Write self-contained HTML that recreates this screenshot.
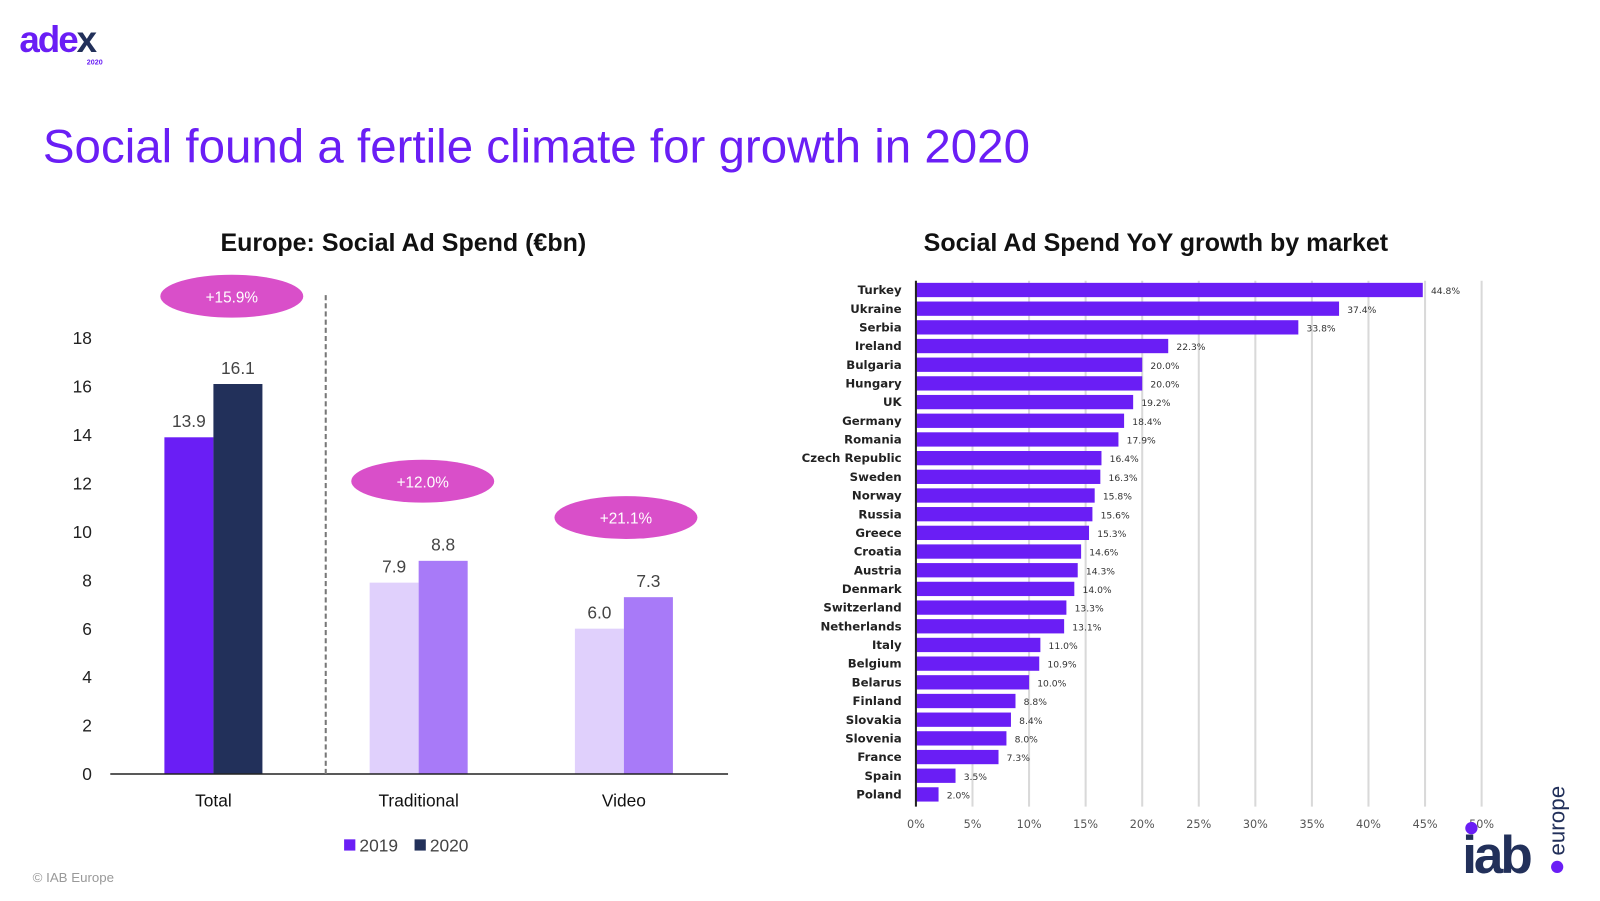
<!DOCTYPE html>
<html><head><meta charset="utf-8"><style>
body{margin:0;width:1600px;height:900px;background:#fff;font-family:"Liberation Sans",sans-serif;overflow:hidden;position:relative}
#wrap{position:absolute;left:0;top:0;width:1567px;height:882px;transform:scale(1.0211);transform-origin:0 0}
.abs{position:absolute}
</style></head><body>
<div id="wrap">
<div class="abs" style="left:19px;top:18px;font-weight:bold;font-size:36px;letter-spacing:-2px;color:#6a1ef5">ade<span style="color:#22305a">x</span></div>
<div class="abs" style="left:85px;top:58px;font-size:7px;font-weight:bold;color:#6a1ef5">2020</div>
<div class="abs" style="left:42px;top:116px;font-size:46.5px;color:#6a1ef5">Social found a fertile climate for growth in 2020</div>
<div class="abs" style="left:32px;top:852px;font-size:13px;color:#999">© IAB Europe</div>
<svg class="abs" style="left:0;top:0" width="1567" height="882" id="svg">
<text x="395" y="246" text-anchor="middle" font-size="24.5" font-weight="bold" font-family="Liberation Sans,sans-serif" fill="#111">Europe: Social Ad Spend (€bn)</text>
<text x="1132" y="246" text-anchor="middle" font-size="24.5" font-weight="bold" font-family="Liberation Sans,sans-serif" fill="#111">Social Ad Spend YoY growth by market</text>
<g id="left"></g><g id="right"></g>
<g>
<text x="1432" y="855" font-size="52" font-weight="bold" font-family="Liberation Sans,sans-serif" fill="#22305a" letter-spacing="-3">iab</text>
<circle cx="1441" cy="811" r="6" fill="#6a1ef5"/>
<circle cx="1525" cy="849" r="6" fill="#6a1ef5"/>
<text transform="translate(1532,838) rotate(-90)" font-size="22" font-family="Liberation Sans,sans-serif" fill="#22305a">europe</text>
</g>
</svg>
</div>
<script>
const NS="http://www.w3.org/2000/svg";
function mk(p,t,a){const e=document.createElementNS(NS,t);for(const k in a)e.setAttribute(k,a[k]);p.appendChild(e);return e}
// Left chart data
const leftCats=["Total","Traditional","Video"];
const v2019=[13.9,7.9,6.0];
const v2020=[16.1,8.8,7.3];
const growth=["+15.9%","+12.0%","+21.1%"];
const yTicks=[0,2,4,6,8,10,12,14,16,18];
const col2019=["#6a1ef5","#e0d0fc","#e0d0fc"];
const col2020=["#22305a","#a87af8","#a87af8"];
const L=document.getElementById("left");
const y0=758,yUnit=(758-331)/18;
const Y=v=>y0-v*yUnit;
const cx=i=>209+i*201;
yTicks.forEach(t=>{const e=mk(L,"text",{x:90,y:Y(t)+6,"text-anchor":"end","font-size":17,fill:"#222","font-family":"Liberation Sans,sans-serif"});e.textContent=t;

});
leftCats.forEach((c,i)=>{
 const b1=mk(L,"rect",{x:cx(i)-48,y:Y(v2019[i]),width:48,height:v2019[i]*yUnit,fill:col2019[i]});
 
 
 const b2=mk(L,"rect",{x:cx(i),y:Y(v2020[i]),width:48,height:v2020[i]*yUnit,fill:col2020[i]});
 
 
 [[v2019[i],cx(i)-24],[v2020[i],cx(i)+24]].forEach(([v,x])=>{const t=mk(L,"text",{x:x,y:Y(v)-10,"text-anchor":"middle","font-size":17,fill:"#444","font-family":"Liberation Sans,sans-serif"});t.textContent=v.toFixed(1);
 
 });
 const lb=mk(L,"text",{x:cx(i),y:790,"text-anchor":"middle","font-size":17,fill:"#111","font-family":"Liberation Sans,sans-serif"});lb.textContent=c;
 
 
 const by=Y(Math.max(v2019[i],v2020[i]))-78+(i==0?-8:0);
 const bx=cx(i)+18-(i==0?0:(i==1?14:16));
 const el=mk(L,"ellipse",{cx:bx,cy:by,rx:70,ry:21,fill:"#d94fc9"});
 
 
 const gt=mk(L,"text",{x:bx,y:by+6,"text-anchor":"middle","font-size":15,fill:"#fff","font-family":"Liberation Sans,sans-serif"});gt.textContent=growth[i];
 
 
});
const ax=mk(L,"line",{x1:108,x2:713,y1:y0,y2:y0,stroke:"#222","stroke-width":1.5});

const dv=mk(L,"line",{x1:319,x2:319,y1:289,y2:758,stroke:"#777","stroke-width":2,"stroke-dasharray":"5,3"});

[["2019","#6a1ef5",337],["2020","#22305a",406]].forEach(([n,c,x])=>{const r=mk(L,"rect",{x:x,y:822,width:11,height:11,fill:c});

const t=mk(L,"text",{x:x+15,y:834,"font-size":17,fill:"#444","font-family":"Liberation Sans,sans-serif"});t.textContent=n;
});
// Right chart data
const markets=["Turkey","Ukraine","Serbia","Ireland","Bulgaria","Hungary","UK","Germany","Romania","Czech Republic","Sweden","Norway","Russia","Greece","Croatia","Austria","Denmark","Switzerland","Netherlands","Italy","Belgium","Belarus","Finland","Slovakia","Slovenia","France","Spain","Poland"];
const growthVals=[44.8,37.4,33.8,22.3,20.0,20.0,19.2,18.4,17.9,16.4,16.3,15.8,15.6,15.3,14.6,14.3,14.0,13.3,13.1,11.0,10.9,10.0,8.8,8.4,8.0,7.3,3.5,2.0];
const xTicks=[0,5,10,15,20,25,30,35,40,45,50];
const R=document.getElementById("right");
const x0=897,xUnit=(1451-897)/50;
const X=v=>x0+v*xUnit;
const RY=i=>284+i*(778-284)/27;
xTicks.forEach(t=>{if(t>0){const g=mk(R,"line",{x1:X(t),x2:X(t),y1:275,y2:790,stroke:"#d9d9d9","stroke-width":2});
}
const e=mk(R,"text",{x:X(t),y:811,"text-anchor":"middle","font-size":11,fill:"#555","font-family":"DejaVu Sans,sans-serif"});e.textContent=t+"%";
});
markets.forEach((m,i)=>{
 const b=mk(R,"rect",{x:x0,y:RY(i)-7,width:growthVals[i]*xUnit,height:14,fill:"#6a1ef5"});
 
 
 const l=mk(R,"text",{x:883,y:RY(i)+4,"text-anchor":"end","font-size":11.5,"font-weight":"bold",fill:"#222","font-family":"DejaVu Sans,sans-serif"});l.textContent=m;
 
 const v=mk(R,"text",{x:X(growthVals[i])+8,y:RY(i)+4,"font-size":9,fill:"#333","font-family":"DejaVu Sans,sans-serif"});v.textContent=growthVals[i].toFixed(1)+"%";
 
});
const ya=mk(R,"line",{x1:x0,x2:x0,y1:275,y2:790,stroke:"#222","stroke-width":2});

</script>
</body></html>
